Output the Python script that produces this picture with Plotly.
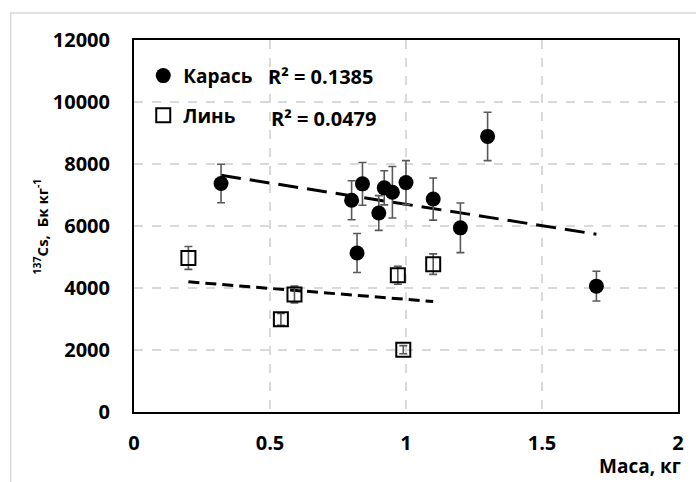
import numpy as np
import plotly.graph_objects as go

# Карась (crucian carp): mass, kg / 137Cs activity, Bq/kg / error
karas_mass = [0.32, 0.80, 0.82, 0.84, 0.90, 0.92, 0.95, 1.00, 1.10, 1.20, 1.30, 1.70]
karas_cs = [7370, 6830, 5130, 7360, 6420, 7230, 7090, 7400, 6870, 5940, 8890, 4060]
karas_err = [620, 630, 630, 690, 560, 550, 830, 710, 680, 800, 780, 480]

# Линь (tench)
lin_mass = [0.20, 0.54, 0.59, 0.97, 0.99, 1.10]
lin_cs = [4970, 2990, 3790, 4410, 2010, 4770]
lin_err = [370, 190, 270, 290, 130, 330]

r2_labels = ["R² = 0.1385", "R² = 0.0479"]
x_ticks = [0, 0.5, 1, 1.5, 2]
x_tick_text = ["0", "0.5", "1", "1.5", "2"]
y_ticks = [0, 2000, 4000, 6000, 8000, 10000, 12000]
y_tick_text = ["0", "2000", "4000", "6000", "8000", "10000", "12000"]

FONT = "Open Sans"
ERR_COLOR = "#595959"


def trend(xs, ys):
    k, b = np.polyfit(xs, ys, 1)
    xr = np.array([min(xs), max(xs)])
    return xr, k * xr + b


fig = go.Figure()

kx, ky = trend(karas_mass, karas_cs)
lx, ly = trend(lin_mass, lin_cs)

fig.add_trace(go.Scatter(
    x=kx, y=ky, mode="lines", showlegend=False, hoverinfo="skip",
    line=dict(color="black", width=3, dash="20px,9px"),
))
fig.add_trace(go.Scatter(
    x=lx, y=ly, mode="lines", showlegend=False, hoverinfo="skip",
    line=dict(color="black", width=3, dash="11px,6px"),
))

fig.add_trace(go.Scatter(
    x=karas_mass, y=karas_cs, mode="markers", name="Карась",
    legendgroup="k",
    marker=dict(symbol="circle", size=15, color="black"),
    error_y=dict(type="data", array=karas_err, visible=True,
                 color=ERR_COLOR, thickness=1.6, width=4),
))
fig.add_trace(go.Scatter(
    x=lin_mass, y=lin_cs, mode="markers", name="Линь",
    legendgroup="l",
    marker=dict(symbol="square-open", size=14, color="black",
                line=dict(width=2, color="black")),
    error_y=dict(type="data", array=lin_err, visible=True,
                 color=ERR_COLOR, thickness=1.6, width=4),
))

axis_font = dict(family=FONT, size=20, color="black", weight="bold")

fig.update_xaxes(
    range=[0, 2], tickvals=x_ticks, ticktext=x_tick_text,
    showgrid=True, gridcolor="#d9d9d9", gridwidth=1.5, griddash="dash",
    showline=True, linecolor="black", linewidth=2, mirror=True,
    zeroline=False, ticks="", tickfont=axis_font, ticklabelstandoff=12,
)
fig.update_yaxes(
    range=[0, 12000], tickvals=y_ticks, ticktext=y_tick_text,
    showgrid=True, gridcolor="#d9d9d9", gridwidth=1.5, griddash="dash",
    showline=True, linecolor="black", linewidth=2, mirror=True,
    zeroline=False, ticks="", tickfont=axis_font, ticklabelstandoff=18,
)

annotations = [
    dict(x=0.487, y=10830, xref="x", yref="y", text=r2_labels[0],
         showarrow=False, xanchor="left", yanchor="middle",
         font=axis_font),
    dict(x=0.495, y=9480, xref="x", yref="y", text=r2_labels[1],
         showarrow=False, xanchor="left", yanchor="middle",
         font=axis_font),
    dict(x=1.01, y=-0.105, xref="paper", yref="paper", text="Маса, кг",
         showarrow=False, xanchor="right", yanchor="top",
         font=dict(family=FONT, size=19, color="black", weight="bold")),
    dict(x=-0.172, y=0.5, xref="paper", yref="paper",
         text="<sup>137</sup>Cs,&nbsp; Бк кг<sup>-1</sup>",
         showarrow=False, textangle=-90, xanchor="center", yanchor="middle",
         font=dict(family=FONT, size=15, color="black", weight="bold")),
]

fig.update_layout(
    width=696, height=482,
    margin=dict(l=134, r=15, t=40, b=70),
    paper_bgcolor="white", plot_bgcolor="white",
    annotations=annotations,
    legend=dict(
        x=0.017, y=0.955, xanchor="left", yanchor="top",
        bgcolor="rgba(0,0,0,0)", borderwidth=0,
        font=dict(family=FONT, size=19, color="black", weight="bold"),
        tracegroupgap=12,
    ),
    shapes=[
        dict(type="rect", xref="paper", yref="paper",
             x0=-0.2267, x1=1.2, y0=-0.4, y1=1.0726,
             line=dict(color="#d9d9d9", width=1.5), layer="below"),
    ],
)

fig.write_html("out.html")
